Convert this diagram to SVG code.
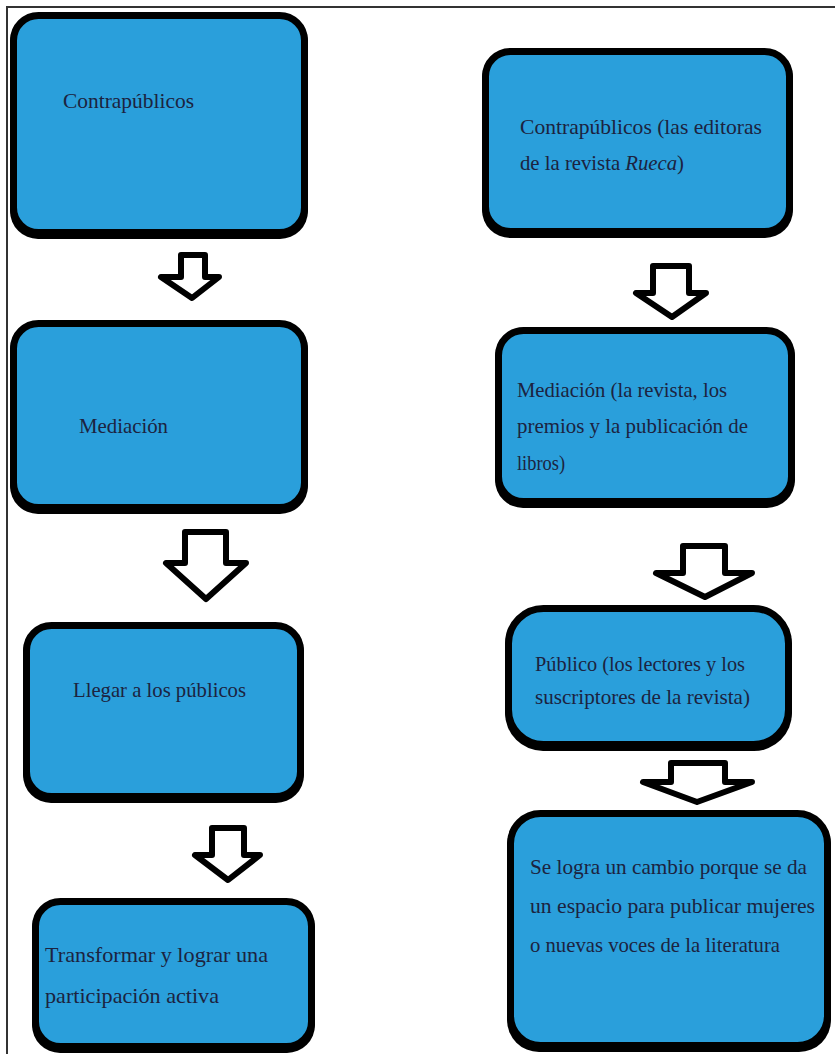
<svg xmlns="http://www.w3.org/2000/svg" width="835" height="1054" viewBox="0 0 835 1054">
<style>
.box{fill:#2a9fdb;stroke:#000;stroke-width:7}
.sh{fill:#000}
.arr{fill:#fff;stroke:#000;stroke-width:6;stroke-linejoin:round}
.t{font-family:"Liberation Serif","Times New Roman",serif;font-size:21px;fill:#1c2340}
.frame{stroke:#333;stroke-width:2;fill:none}
</style>
<rect width="835" height="1054" fill="#fff"/>
<path class="frame" d="M7,1054 V7 H835"/>
<g id="connectors">
<path class="arr" d="M181,277 V255 H205 V277 H219 L192,298 L161,277 Z"/>
<path class="arr" d="M185,563 V532 H226 V563 H246 L206,599 L166,563 Z"/>
<path class="arr" d="M212,855 V828 H244 V855 H260 L228,880 L195,855 Z"/>
<path class="arr" d="M653,293 V266 H689 V293 H706 L672,317 L636,293 Z"/>
<path class="arr" d="M683,573 V546 H725 V573 H752 L705,597 L656,573 Z"/>
<path class="arr" d="M671,782 V763 H725 V782 H752 L697,802 L643,782 Z"/>
</g>
<g id="n1">
<rect class="sh" x="10" y="15" width="298" height="224" rx="28"/>
<rect class="box" x="13.5" y="15.5" width="291" height="217" rx="25"/>
<text class="t" x="63" y="108" textLength="131" lengthAdjust="spacingAndGlyphs">Contrapúblicos</text>
</g>
<g id="n2">
<rect class="sh" x="10" y="323" width="298" height="191" rx="28"/>
<rect class="box" x="13.5" y="323.5" width="291" height="184" rx="25"/>
<text class="t" x="79" y="433" textLength="89" lengthAdjust="spacingAndGlyphs">Mediación</text>
</g>
<g id="n3">
<rect class="sh" x="23" y="625" width="281" height="178" rx="28"/>
<rect class="box" x="26.5" y="625.5" width="274" height="171" rx="25"/>
<text class="t" x="73" y="697" textLength="173" lengthAdjust="spacingAndGlyphs">Llegar a los públicos</text>
</g>
<g id="n4">
<rect class="sh" x="32" y="901" width="283" height="152" rx="28"/>
<rect class="box" x="35.5" y="901.5" width="276" height="145" rx="25"/>
<text class="t" x="45" y="962" textLength="223" lengthAdjust="spacingAndGlyphs">Transformar y lograr una</text>
<text class="t" x="45" y="1003" textLength="174" lengthAdjust="spacingAndGlyphs">participación activa</text>
</g>
<g id="n5">
<rect class="sh" x="482" y="51" width="311" height="187" rx="28"/>
<rect class="box" x="485.5" y="51.5" width="304" height="180" rx="25"/>
<text class="t" x="520" y="134" textLength="242" lengthAdjust="spacingAndGlyphs">Contrapúblicos (las editoras</text>
<text class="t" x="520" y="170" textLength="164" lengthAdjust="spacingAndGlyphs">de la revista <tspan font-style="italic">Rueca</tspan>)</text>
</g>
<g id="n6">
<rect class="sh" x="495" y="330" width="300" height="178" rx="28"/>
<rect class="box" x="498.5" y="330.5" width="293" height="171" rx="25"/>
<text class="t" x="517" y="397" textLength="210" lengthAdjust="spacingAndGlyphs">Mediación (la revista, los</text>
<text class="t" x="517" y="433" textLength="231" lengthAdjust="spacingAndGlyphs">premios y la publicación de</text>
<text class="t" x="517" y="470" textLength="48" lengthAdjust="spacingAndGlyphs">libros)</text>
</g>
<g id="n7">
<rect class="sh" x="505" y="608" width="287" height="143" rx="38"/>
<rect class="box" x="508.5" y="608.5" width="280" height="136" rx="35"/>
<text class="t" x="535" y="671" textLength="210" lengthAdjust="spacingAndGlyphs">Público (los lectores y los</text>
<text class="t" x="535" y="704" textLength="215" lengthAdjust="spacingAndGlyphs">suscriptores de la revista)</text>
</g>
<g id="n8">
<rect class="sh" x="507" y="813" width="324" height="239" rx="32"/>
<rect class="box" x="510.5" y="813.5" width="317" height="232" rx="30"/>
<text class="t" x="530" y="874" textLength="277" lengthAdjust="spacingAndGlyphs">Se logra un cambio porque se da</text>
<text class="t" x="530" y="913" textLength="285" lengthAdjust="spacingAndGlyphs">un espacio para publicar mujeres</text>
<text class="t" x="530" y="952" textLength="250" lengthAdjust="spacingAndGlyphs">o nuevas voces de la literatura</text>
</g>
</svg>
